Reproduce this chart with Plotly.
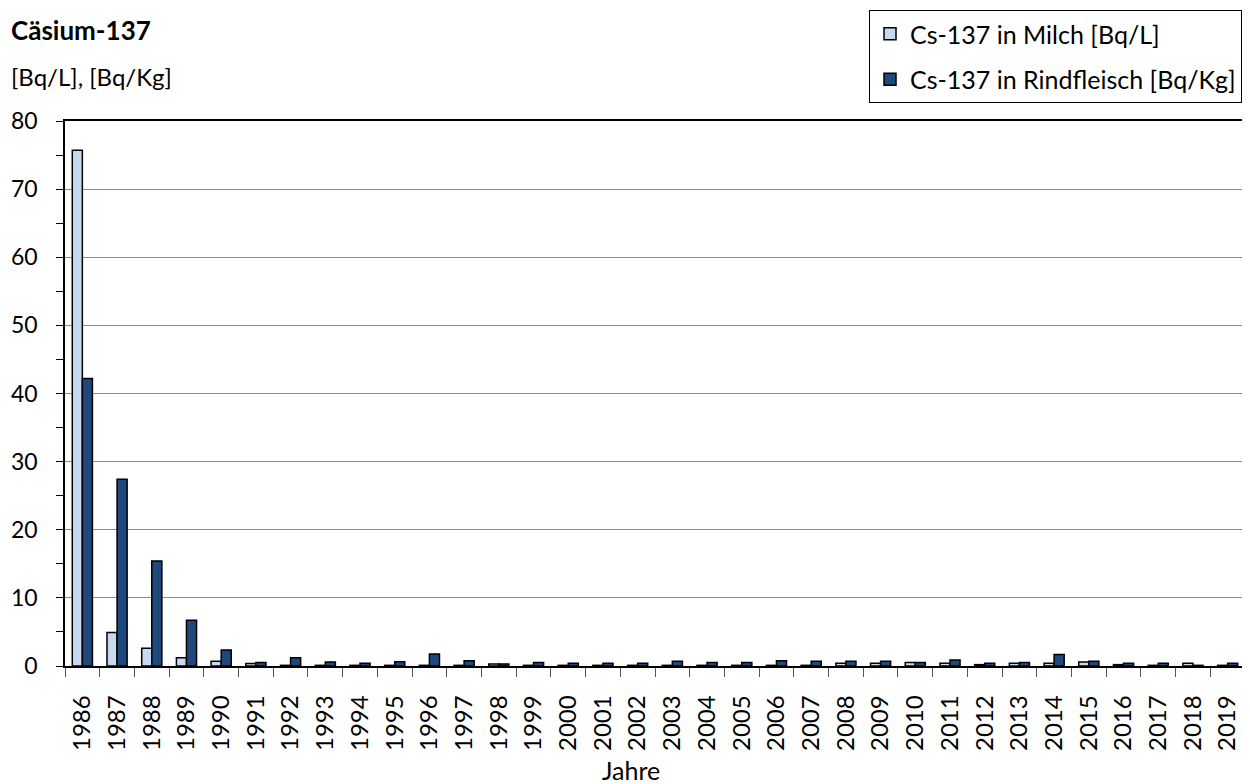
import plotly.graph_objects as go

years = [str(y) for y in range(1986, 2020)]
milch = [75.7, 4.9, 2.6, 1.2, 0.7, 0.35, 0.1, 0.1, 0.1, 0.1, 0.1, 0.1, 0.3, 0.1, 0.1, 0.1,
         0.1, 0.1, 0.1, 0.1, 0.1, 0.1, 0.4, 0.4, 0.5, 0.4, 0.2, 0.4, 0.4, 0.6, 0.2, 0.1, 0.4, 0.1]
rind = [42.2, 27.4, 15.4, 6.7, 2.35, 0.5, 1.2, 0.6, 0.4, 0.63, 1.76, 0.78, 0.3, 0.53, 0.4, 0.4,
        0.4, 0.68, 0.53, 0.53, 0.78, 0.68, 0.68, 0.68, 0.53, 0.88, 0.4, 0.53, 1.7, 0.68, 0.4, 0.4, 0.1, 0.4]

FONT = "Lato, 'Open Sans', sans-serif"
OFF = 8  # page body margin
W, H = 1250 - OFF, 784 - OFF
L, R, T, B = 65 - OFF, 5, 121 - OFF, 784 - 666
PW, PH = W - L - R, H - T - B


def py(y_screen):
    """screen y -> paper y"""
    return 1 - (y_screen - OFF - T) / PH


def px(x_screen):
    return (x_screen - OFF - L) / PW


fig = go.Figure()
fig.add_trace(go.Bar(x=years, y=milch, name="Cs-137 in Milch [Bq/L]", legendgroup="a",
                     marker=dict(color="#c6d9f1", line=dict(color="black", width=1.5))))
fig.add_trace(go.Bar(x=years, y=rind, name="Cs-137 in Rindfleisch [Bq/Kg]", legendgroup="b",
                     marker=dict(color="#1f497d", line=dict(color="black", width=1.5))))

fig.update_layout(
    width=W, height=H,
    paper_bgcolor="white", plot_bgcolor="white",
    margin=dict(l=L, r=R, t=T, b=B, autoexpand=False),
    barmode="group", bargap=0.42, bargroupgap=0.0,
    font=dict(family=FONT, size=23, color="black"),
    legend=dict(x=(1242 - OFF) / W, y=1 - (10 - OFF) / H, xref="container", yref="container",
                xanchor="right", yanchor="top",
                bordercolor="black", borderwidth=1, bgcolor="white",
                font=dict(size=25), tracegroupgap=10, itemwidth=30),
)
fig.add_annotation(text="<b>Cäsium-137</b>", xref="paper", yref="paper",
                   x=px(9), y=py(30), xanchor="left", yanchor="middle",
                   showarrow=False, font=dict(size=26))
fig.add_annotation(text="[Bq/L], [Bq/Kg]", xref="paper", yref="paper",
                   x=px(9), y=py(76), xanchor="left", yanchor="middle",
                   showarrow=False, font=dict(size=24))
fig.add_annotation(text="Jahre", xref="paper", yref="paper",
                   x=px(631), y=py(770), xanchor="center", yanchor="middle",
                   showarrow=False, font=dict(size=25))

fig.update_yaxes(range=[0, 80], dtick=10, showgrid=True, gridcolor="#8c8c8c", gridwidth=1,
                 showline=True, linecolor="black", linewidth=1.5, mirror=True,
                 ticks="outside", ticklen=7, tickcolor="black", ticklabelstandoff=14,
                 minor=dict(dtick=5, ticks="outside", ticklen=7, tickcolor="black", showgrid=False),
                 tickfont=dict(size=23), zeroline=False)
fig.update_xaxes(showline=True, linecolor="black", linewidth=1.5, mirror=True,
                 ticks="outside", ticklen=9, tickcolor="#555", tickson="boundaries",
                 ticklabelstandoff=18,
                 tickangle=-90, tickfont=dict(size=24))

fig.write_html("out.html")
